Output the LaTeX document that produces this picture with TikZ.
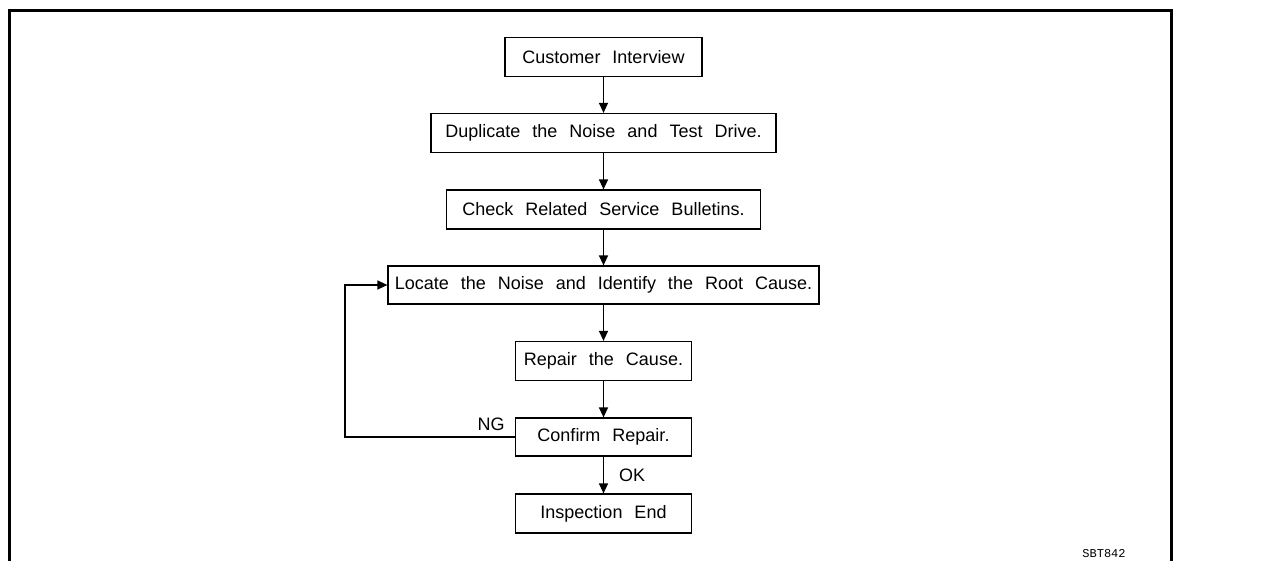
\documentclass[tikz,border=0pt]{standalone}
\usepackage{fontspec}
\setmainfont{Liberation Sans}[WordSpace=2.4]
\newfontfamily\codefont{Liberation Mono}
\usetikzlibrary{arrows.meta}
\begin{document}
\begin{tikzpicture}[x=1pt,y=-1pt,
  stepbox/.style={draw,line width=1.2pt,inner sep=0pt,minimum height=39pt,font=\fontsize{18}{20}\selectfont},
  flow/.style={line width=1.3pt,-{Triangle[length=10pt,width=9pt]}},
  lbl/.style={font=\fontsize{18}{20}\selectfont,inner sep=0pt}]
\useasboundingbox (0,0) rectangle (1268,560);
\draw[line width=3pt] (9.5,575) -- (9.5,10.5) -- (1171,10.5) -- (1171,575);
\node[stepbox,minimum width=197pt] (cust) at (603.5,57) {Customer Interview};
\node[stepbox,minimum width=345pt] (dup) at (603.5,133) {Duplicate the Noise and Test Drive.};
\node[stepbox,minimum width=314pt] (check) at (603.5,209.5) {Check Related Service Bulletins.};
\node[stepbox,minimum width=431pt,minimum height=38pt] (loc) at (603.5,285) {Locate the Noise and Identify the Root Cause.};
\node[stepbox,minimum width=176pt] (rep) at (603.5,361) {Repair the Cause.};
\node[stepbox,minimum width=176pt,minimum height=38pt] (conf) at (603.5,437) {Confirm Repair.};
\node[stepbox,minimum width=176pt] (fin) at (603.5,513.5) {Inspection End};
\draw[flow] (cust) -- (dup);
\draw[flow] (dup) -- (check);
\draw[flow] (check) -- (loc);
\draw[flow] (loc) -- (rep);
\draw[flow] (rep) -- (conf);
\draw[flow] (conf) -- (fin);
\coordinate (lb) at (345,437);
\coordinate (lt) at (345,285);
\draw[flow] (conf.west) -- (lb) -- (lt) -- (loc.west);
\node[lbl] (ng) at (491,424) {NG};
\node[lbl] (ok) at (632,475) {OK};
\node[inner sep=0pt,font=\codefont\fontsize{12}{12}\selectfont] (code) at (1104,554) {SBT842};
\end{tikzpicture}
\end{document}
